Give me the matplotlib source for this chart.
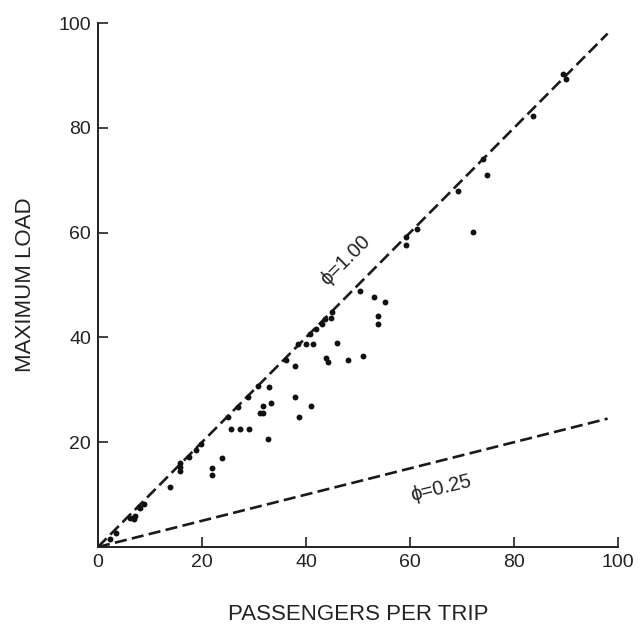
import matplotlib
matplotlib.use("Agg")
import matplotlib.pyplot as plt
import numpy as np

# --------------------------------------------------
# DATA
# --------------------------------------------------
passengers = [
    2.3, 3.5, 6.2, 6.7, 7.0, 7.1, 7.8, 8.1, 8.9, 13.8,
    15.8, 15.8, 15.8, 17.6, 18.8, 19.9, 21.9, 21.9, 23.8, 25.1,
    25.5, 26.9, 27.4, 28.9, 29.0, 30.7, 31.2, 31.8, 31.8, 32.7,
    32.9, 33.2, 36.1, 37.8, 37.9, 38.5, 38.7, 40.0, 40.8, 41.0,
    41.4, 42.0, 43.0, 43.7, 43.8, 44.3, 44.9, 45.1, 45.9, 48.0,
    50.4, 51.0, 53.1, 53.9, 53.9, 55.1, 59.2, 59.2, 61.3, 69.2,
    72.1, 74.0, 74.9, 83.7, 89.5, 90.0,
]
max_load = [
    1.6, 2.7, 5.5, 5.5, 5.3, 5.9, 7.7, 7.5, 8.3, 11.5,
    16.0, 15.2, 14.6, 17.2, 18.5, 19.7, 15.0, 13.7, 16.9, 24.8,
    22.6, 26.8, 22.6, 28.7, 22.6, 30.8, 25.5, 25.5, 26.9, 20.7,
    30.6, 27.5, 35.7, 28.6, 34.6, 38.7, 24.8, 38.7, 40.6, 26.9,
    38.7, 41.6, 42.5, 43.5, 36.0, 35.4, 43.8, 44.8, 39.0, 35.7,
    48.9, 36.5, 47.8, 44.0, 42.5, 46.7, 59.1, 57.6, 60.7, 67.9,
    60.2, 74.0, 71.0, 82.3, 90.3, 89.4,
]

# reference lines: max load = phi * passengers
phi_values = [1.00, 0.25]
line_end = [0, 98]

x_ticks = [0, 20, 40, 60, 80, 100]
y_ticks = [20, 40, 60, 80, 100]

plt.rcParams["font.family"] = ["Liberation Sans", "DejaVu Sans"]

fig = plt.figure(figsize=(6.42, 6.35), dpi=100)
ax = fig.add_axes([0.1526, 0.1386, 0.81, 0.825])

for phi in phi_values:
    xs = np.array(line_end)
    ax.plot(xs, phi * xs, color="#1a1a1a", lw=1.9, dashes=(4.6, 2.0),
            solid_capstyle="butt", zorder=2)

ax.scatter(passengers, max_load, s=18, color="#111111", zorder=3, linewidths=0)

ax.text(47.6, 54.8, "ϕ=1.00", rotation=45, ha="center", va="center",
        fontsize=14.5, color="#222222")
ax.text(66.0, 11.3, "ϕ=0.25", rotation=14, ha="center", va="center",
        fontsize=14.5, color="#222222")

ax.set_xlim(0, 100)
ax.set_ylim(0, 100)
ax.set_xticks(x_ticks)
ax.set_yticks(y_ticks)
ax.tick_params(direction="in", length=7, width=1.2, labelsize=14,
               color="#222222", labelcolor="#222222")
ax.tick_params(axis="x", pad=5)
ax.tick_params(axis="y", pad=5)

for side in ["top", "right"]:
    ax.spines[side].set_visible(False)
for side in ["left", "bottom"]:
    ax.spines[side].set_linewidth(1.4)
    ax.spines[side].set_color("#222222")

ax.set_xlabel("PASSENGERS PER TRIP", fontsize=16, labelpad=24, color="#222222")
ax.set_ylabel("MAXIMUM LOAD", fontsize=16, labelpad=16, color="#222222")

fig.savefig("out.png", dpi=100)
